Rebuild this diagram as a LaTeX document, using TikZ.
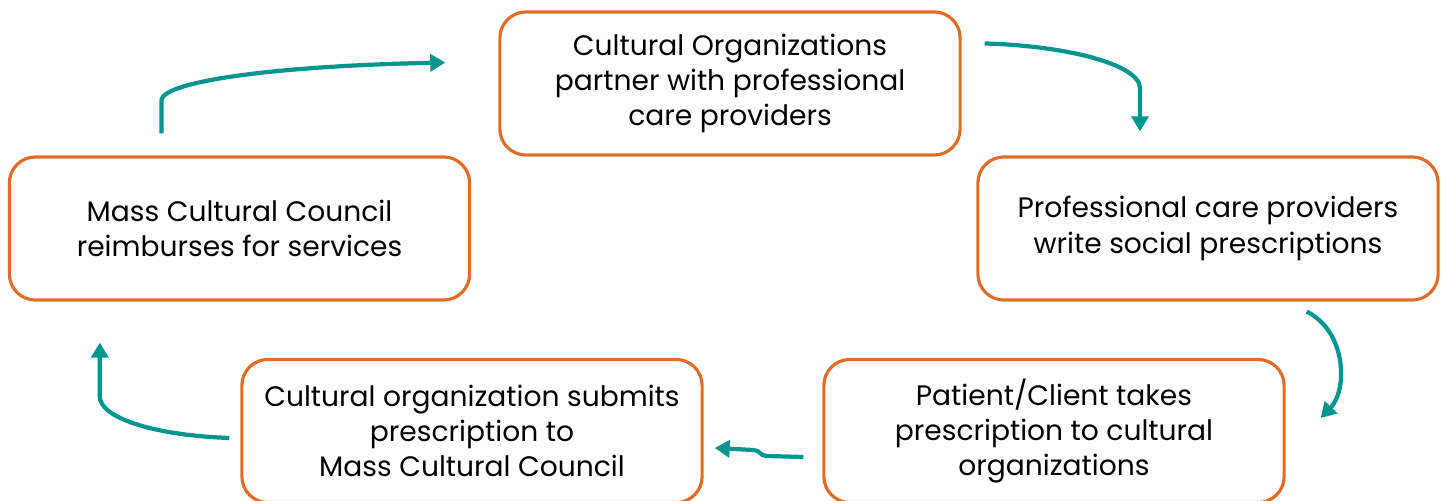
\documentclass[tikz,border=0pt]{standalone}
\usepackage{fontspec}
\setmainfont{Poppins}
\usepackage{tikz}
\usetikzlibrary{calc}
\usetikzlibrary{arrows.meta}
\definecolor{boxorange}{RGB}{224,108,38}
\definecolor{flowteal}{RGB}{0,150,143}
\tikzset{
  stepbox/.style={draw=boxorange, line width=0.9pt, rounded corners=0.26cm,
    minimum width=4.6cm, minimum height=1.43cm, align=center, inner sep=0pt,
    font=\fontsize{8}{10}\selectfont},
  flow/.style={flowteal, line width=1.2pt, -{Triangle[length=0.15cm,width=0.17cm]}}
}

\begin{document}
\begin{tikzpicture}[x=0.01cm,y=-0.01cm]

\useasboundingbox (0,0) rectangle (1448,501);

\node[stepbox] (partner) at (730,83.5) {Cultural Organizations\\partner with professional\\care providers};	% top
\node[stepbox] (write) at (1208,228.5) {Professional care providers\\write social prescriptions};		% right
\node[stepbox] (takes) at (1054,431) {Patient/Client takes\\prescription to cultural\\organizations};	% bottom right
\node[stepbox] (submits) at (472,431) {Cultural organization submits\\prescription to\\Mass Cultural Council};	% bottom left
\node[stepbox] (reimburse) at (239.5,228.5) {Mass Cultural Council\\reimburses for services};		% left

\coordinate (r1) at ($(reimburse.north)+(-78,-22)$);
\coordinate (p1) at ($(partner.west)+(-53,-21)$);
\coordinate (p2) at ($(partner.east)+(23,-40)$);
\coordinate (w1) at ($(write.north)+(-68,-24)$);
\coordinate (w2) at ($(write.south east)+(-133,10)$);
\coordinate (t1) at ($(takes.east)+(35,-13)$);
\coordinate (t2) at ($(takes.west)+(-19,26)$);
\coordinate (s1) at ($(submits.east)+(11,17)$);
\coordinate (s2) at ($(submits.west)+(-11,7)$);
\coordinate (r2) at ($(reimburse.south west)+(92,41)$);

\draw[flow] (r1) -- ++(0,-33) .. controls ++(0,-17) and ($(p1)+(-187,4)$) .. (p1);	% back to top
\draw[flow] (p2) .. controls ++(77,2) and ($(w1)+(0,-68)$) .. ($(w1)+(0,-43)$) -- (w1);	% top to right
\draw[flow] (w2) .. controls ++(40,20) and ($(t1)+(27,-28)$) .. (t1);			% right to bottom
\draw[flow] (t2) -- ++(-36,-1) .. controls ++(-10,-1) and ($(s1)+(48,3)$) .. ($(s1)+(38,2)$) -- (s1);	% bottom right to left
\draw[flow] (s2) .. controls ++(-80,-3) and ($(r2)+(0,74)$) .. ($(r2)+(0,54)$) -- (r2);	% bottom left to left

\end{tikzpicture}
\end{document}
